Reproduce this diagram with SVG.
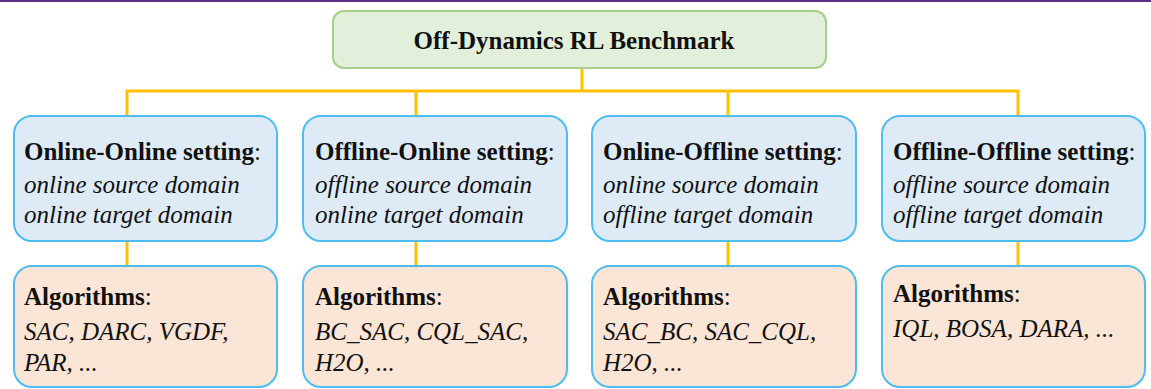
<svg xmlns="http://www.w3.org/2000/svg" width="1151" height="389" viewBox="0 0 1151 389">
  <style>
    text { font-family: "Liberation Serif", "Times New Roman", serif; font-size: 25px; fill: #111; }
    .b { font-weight: bold; }
    .n { font-weight: normal; }
    .i { font-style: italic; }
    .root { fill: #e2efda; stroke: #a6d08a; stroke-width: 2; }
    .setting { fill: #deebf7; stroke: #4cbdee; stroke-width: 2; }
    .algo { fill: #fbe5d6; stroke: #4cbdee; stroke-width: 2; }
    .wire { fill: none; stroke: #ffc000; stroke-width: 3; }
  </style>

  <!-- page rule along the top edge -->
  <rect x="0" y="0" width="1151" height="2" fill="#5d2e82"/>

  <!-- tree connectors -->
  <g id="connectors" class="wire">
    <path d="M582 68 V91"/>
    <path d="M127 116 V91 H1018 V116"/>
    <path d="M416 91 V116"/>
    <path d="M728 91 V116"/>
    <path d="M127 241 V266"/>
    <path d="M416 241 V266"/>
    <path d="M728 241 V266"/>
    <path d="M1018 241 V266"/>
  </g>

  <g id="root">
    <rect class="root" x="333" y="11" width="493" height="57" rx="11"/>
    <text class="b" x="574" y="49" text-anchor="middle">Off-Dynamics RL Benchmark</text>
  </g>

  <!-- setting boxes -->
  <g id="online-online">
    <rect class="setting" x="14" y="116" width="263" height="125" rx="18"/>
    <text x="24" y="160"><tspan class="b">Online-Online setting</tspan>:</text>
    <text class="i" x="24" y="193">online source domain</text>
    <text class="i" x="24" y="223">online target domain</text>
  </g>
  <g id="offline-online">
    <rect class="setting" x="303" y="116" width="264" height="125" rx="18"/>
    <text x="315" y="160"><tspan class="b">Offline-Online setting</tspan>:</text>
    <text class="i" x="315" y="193">offline source domain</text>
    <text class="i" x="315" y="223">online target domain</text>
  </g>
  <g id="online-offline">
    <rect class="setting" x="592" y="116" width="264" height="125" rx="18"/>
    <text x="603" y="160"><tspan class="b">Online-Offline setting</tspan>:</text>
    <text class="i" x="603" y="193">online source domain</text>
    <text class="i" x="603" y="223">offline target domain</text>
  </g>
  <g id="offline-offline">
    <rect class="setting" x="882" y="116" width="263" height="125" rx="18"/>
    <text x="893" y="160"><tspan class="b">Offline-Offline setting</tspan>:</text>
    <text class="i" x="893" y="193">offline source domain</text>
    <text class="i" x="893" y="223">offline target domain</text>
  </g>

  <!-- algorithm boxes -->
  <g id="algos-online-online">
    <rect class="algo" x="14" y="266" width="263" height="121" rx="18"/>
    <text x="24" y="305"><tspan class="b">Algorithms</tspan>:</text>
    <text class="i" x="24" y="340">SAC, DARC, VGDF,</text>
    <text class="i" x="24" y="371">PAR, ...</text>
  </g>
  <g id="algos-offline-online">
    <rect class="algo" x="303" y="266" width="264" height="121" rx="18"/>
    <text x="315" y="305"><tspan class="b">Algorithms</tspan>:</text>
    <text class="i" x="315" y="340">BC_SAC, CQL_SAC,</text>
    <text class="i" x="315" y="371">H2O, ...</text>
  </g>
  <g id="algos-online-offline">
    <rect class="algo" x="592" y="266" width="264" height="121" rx="18"/>
    <text x="603" y="305"><tspan class="b">Algorithms</tspan>:</text>
    <text class="i" x="603" y="340">SAC_BC, SAC_CQL,</text>
    <text class="i" x="603" y="371">H2O, ...</text>
  </g>
  <g id="algos-offline-offline">
    <rect class="algo" x="882" y="266" width="263" height="121" rx="18"/>
    <text x="893" y="302"><tspan class="b">Algorithms</tspan>:</text>
    <text class="i" x="893" y="337">IQL, BOSA, DARA, ...</text>
  </g>
</svg>
